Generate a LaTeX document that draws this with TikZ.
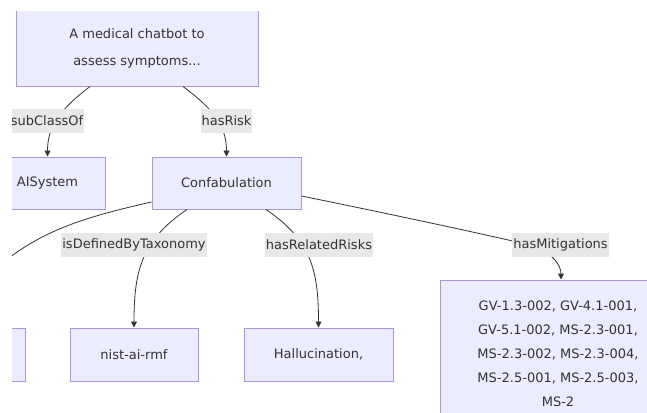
\documentclass[tikz,border=0pt]{standalone}
\usepackage{fontspec}
\setmainfont{DejaVu Sans}
\usetikzlibrary{arrows.meta}
\definecolor{nodefill}{HTML}{ECECFF}
\definecolor{nodeline}{HTML}{9370DB}
\definecolor{edgecol}{HTML}{333333}
\definecolor{labfill}{HTML}{E8E8E8}
\definecolor{txt}{HTML}{333333}
\tikzset{
  box/.style={draw=nodeline!75!white, line width=1pt, fill=nodefill, text=txt, inner sep=0pt, align=center,
    font=\fontsize{13}{24}\selectfont},
  edge/.style={draw=edgecol, line width=0.8pt, -{Triangle[width=6pt,length=6pt]}},
  plain/.style={draw=edgecol, line width=0.8pt},
  elabel/.style={fill=labfill, text=txt, inner xsep=1pt, inner ysep=0pt, minimum height=24pt,
    font=\fontsize{13}{16}\selectfont}
}
\begin{document}
\begin{tikzpicture}[x=1pt,y=-1pt]
\useasboundingbox (0,0) rectangle (647,412);
\fill[white] (0,0) rectangle (647,412);
\clip (12,11.6) rectangle (647,412);
% nodes
\node[box, minimum width=242pt, minimum height=75pt, font=\fontsize{13}{27}\selectfont] (top) at (137,48.5) {A medical chatbot to\\assess symptoms...};
\node[box, minimum width=115pt, minimum height=52pt] (ais) at (47.5,183) {AISystem};
\node[box, minimum width=149pt, minimum height=52pt] (conf) at (226.5,183) {Confabulation};
\node[box, minimum width=149pt, minimum height=53pt] (leftb) at (-49.5,354.5) {};
\node[box, minimum width=128pt, minimum height=53pt] (nist) at (134,354.5) {nist-ai-rmf};
\node[box, minimum width=149pt, minimum height=53pt] (hall) at (318.5,354.5) {Hallucination,};
\node[box, minimum width=236pt, minimum height=148pt] (mit) at (558,354) {GV-1.3-002, GV-4.1-001,\\GV-5.1-002, MS-2.3-001,\\MS-2.3-002, MS-2.3-004,\\MS-2.5-001, MS-2.5-003,\\MS-2};
% edges
\draw[edge] ([xshift=-47pt]top.south) .. controls (62,108) and (47.5,125) .. (ais.north);
\draw[edge] ([xshift=46pt]top.south) .. controls (212,108) and (226.5,125) .. (conf.north);
\draw[edge] ([xshift=-39.5pt]conf.south) .. controls (142,240) and (134,270) .. (nist.north);
\draw[edge] ([xshift=39.5pt]conf.south) .. controls (311,240) and (318.5,270) .. (hall.north);
\draw[edge] ([yshift=-13pt]conf.east) .. controls (380,212) and (470,231) .. (530,245) .. controls (552,252) and (561,265) .. ([xshift=3pt]mit.north);
\draw[plain] ([yshift=-19pt]conf.west) .. controls (80,218) and (40,232) .. (0,265);
% labels
\node[elabel] (l1) at (47,121) {subClassOf};
\node[elabel] (l2) at (226.5,121) {hasRisk};
\node[elabel] (l3) at (134,245) {isDefinedByTaxonomy};
\node[elabel] (l4) at (319,245) {hasRelatedRisks};
\node[elabel] (l5) at (560.5,245) {hasMitigations};
\end{tikzpicture}
\end{document}
